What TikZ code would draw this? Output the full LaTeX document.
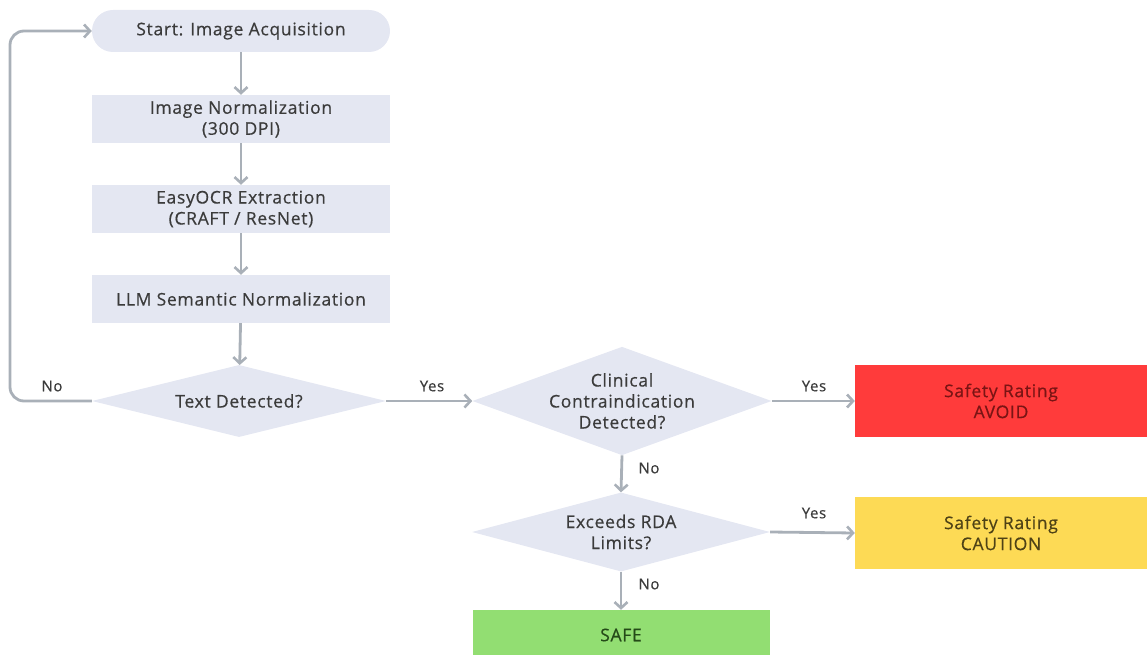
\documentclass[tikz,border=0pt]{standalone}
\usepackage{fontspec}
\setmainfont{Open Sans}[LetterSpace=4,FakeBold=0.5]
\usetikzlibrary{shapes.geometric,arrows.meta,positioning}
\definecolor{boxfill}{HTML}{E4E7F2}
\definecolor{arrowgray}{HTML}{A9B0B8}
\definecolor{txtgray}{HTML}{3B3B3B}
\definecolor{avoidred}{HTML}{FF3B3B}
\definecolor{avoidtxt}{HTML}{7A1414}
\definecolor{cautionyel}{HTML}{FDDA55}
\definecolor{cautiontxt}{HTML}{4E4216}
\definecolor{safegreen}{HTML}{92DE72}
\definecolor{safetxt}{HTML}{244A18}
\tikzset{
  x=1pt,y=-1pt,
  base/.style={font=\fontsize{17.5}{21}\selectfont, text=txtgray, align=center, inner sep=0pt},
  procbox/.style={base, fill=boxfill, minimum width=298pt, minimum height=48pt},
  startbox/.style={base, fill=boxfill, minimum width=298pt, minimum height=42pt, rounded corners=21pt},
  decision/.style={base, diamond, fill=boxfill},
  outbox/.style={base, minimum width=292pt, minimum height=72pt},
  conn/.style={draw=arrowgray, line width=2.8pt, -{Straight Barb[length=6pt,width=13pt,line width=2.6pt]}},
  lbl/.style={font=\fontsize{15}{17}\selectfont, text=txtgray, inner sep=0pt}
}
\begin{document}
\begin{tikzpicture}
\useasboundingbox (0,0) rectangle (1147,655);
\node[startbox] (start) at (241,31) {Start: Image Acquisition};
\node[procbox] (norm) at (241,119) {Image Normalization\\(300 DPI)};
\node[procbox] (ocr) at (241,209) {EasyOCR Extraction\\(CRAFT / ResNet)};
\node[procbox] (llm) at (241,299) {LLM Semantic Normalization};
\node[decision, minimum width=294pt, minimum height=72pt, shape aspect=4.08] (text) at (239,401) {Text Detected?};
\node[decision, minimum width=295pt, minimum height=107pt, shape aspect=2.76] (clin) at (622,401) {Clinical\\Contraindication\\Detected?};
\node[outbox, fill=avoidred, text=avoidtxt] (avoid) at (1001,401) {Safety Rating\\AVOID};
\node[decision, minimum width=298pt, minimum height=79pt, shape aspect=3.77] (rda) at (621,532) {Exceeds RDA\\Limits?};
\node[outbox, fill=cautionyel, text=cautiontxt] (caution) at (1001,533) {Safety Rating\\CAUTION};
\node[base, fill=safegreen, text=safetxt, minimum width=297pt, minimum height=50pt] (safe) at (621,635) {SAFE};

\draw[conn] (start) -- (norm);
\draw[conn] (norm) -- (ocr);
\draw[conn] (ocr) -- (llm);
\draw[conn] (llm) -- (text);
\coordinate (loopbot) at (10,401);
\coordinate (looptop) at (10,31);
\draw[conn, rounded corners=14pt] (text.west) -- (loopbot) -- (looptop) -- (start.west);
\node[lbl] at (52,386) {No};
\draw[conn] (text.east) -- (clin.west);
\node[lbl] at (432,386) {Yes};
\draw[conn] (clin.east) -- (avoid.west);
\node[lbl] at (814,386) {Yes};
\draw[conn] (clin.south) -- (rda.north);
\node[lbl] at (649,468) {No};
\draw[conn] (rda.east) -- (caution.west);
\node[lbl] at (814,513) {Yes};
\draw[conn] (rda.south) -- (safe.north);
\node[lbl] at (649,584) {No};
\end{tikzpicture}
\end{document}
